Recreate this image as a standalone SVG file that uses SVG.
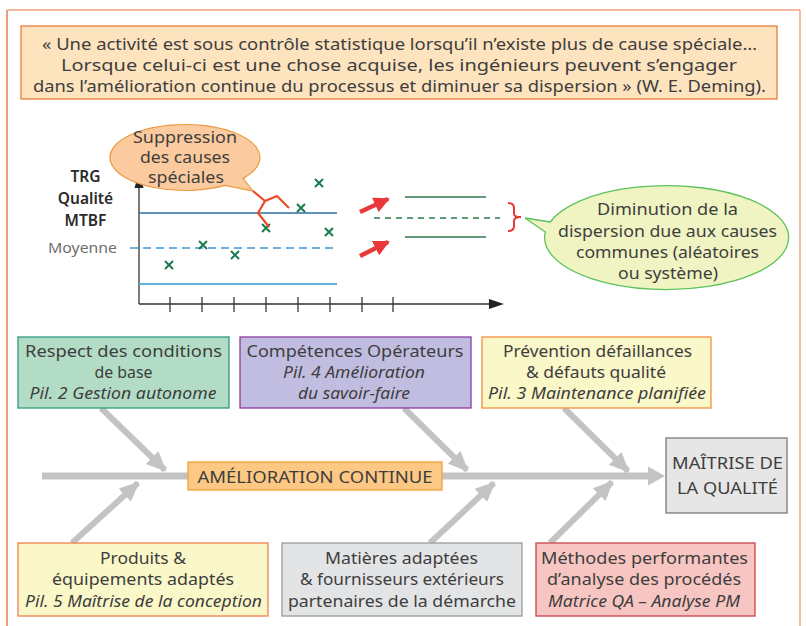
<svg xmlns="http://www.w3.org/2000/svg" width="806" height="626" viewBox="0 0 806 626">
<defs>
<style>
text{font-family:"Noto Sans","Open Sans","Liberation Sans",sans-serif;fill:#3e3e3e;}
.q{font-size:16.5px;text-anchor:middle;}
.b{font-size:16px;text-anchor:middle;}
.i{font-style:italic;}
.lbl{font-size:15.5px;font-weight:600;text-anchor:middle;fill:#2a2a2a;}
.box{stroke-width:1.3;}
.cross{stroke:#1c7a4c;stroke-width:2;fill:none;}
.grayarrow{stroke:#c3c3c3;stroke-width:6;fill:none;}
</style>
<marker id="gh" markerUnits="userSpaceOnUse" markerWidth="20" markerHeight="20" viewBox="0 0 20 20" refX="18" refY="10" orient="auto">
<path d="M0,1 L20,10 L0,19 Z" fill="#c3c3c3"/>
</marker>
<marker id="rh" markerUnits="userSpaceOnUse" markerWidth="16" markerHeight="16" viewBox="0 0 16 16" refX="14" refY="8" orient="auto">
<path d="M0,0 L16,8 L0,16 Z" fill="#e8383a"/>
</marker>
</defs>

<!-- outer frame -->
<g id="frame" fill="none">
<line x1="7" y1="10" x2="7" y2="626" stroke="#e46a30" stroke-width="1.3"/>
<line x1="7" y1="10" x2="800" y2="10" stroke="#f0a080" stroke-width="1.3"/>
<line x1="800" y1="10" x2="800" y2="626" stroke="#ef9a76" stroke-width="1.3"/>
</g>

<!-- quote -->
<g id="quote">
<rect x="21" y="26" width="756" height="73" fill="#fde3be" stroke="#ea7c3c" stroke-width="1.3"/>
<text class="q" x="399.5" y="50" textLength="715" lengthAdjust="spacingAndGlyphs">« Une activité est sous contrôle statistique lorsqu’il n’existe plus de cause spéciale…</text>
<text class="q" x="399" y="71" textLength="676" lengthAdjust="spacingAndGlyphs">Lorsque celui-ci est une chose acquise, les ingénieurs peuvent s’engager</text>
<text class="q" x="399.5" y="92" textLength="733" lengthAdjust="spacingAndGlyphs">dans l’amélioration continue du processus et diminuer sa dispersion » (W. E. Deming).</text>
</g>

<!-- chart -->
<g id="chart">
<text class="lbl" x="85.5" y="182">TRG</text>
<text class="lbl" x="85.5" y="204">Qualité</text>
<text class="lbl" x="85.5" y="226">MTBF</text>
<text x="82.5" y="253" style="font-size:15px;text-anchor:middle;fill:#6e6e6e" textLength="69" lengthAdjust="spacingAndGlyphs">Moyenne</text>
<line x1="139" y1="186" x2="139" y2="304" stroke="#333" stroke-width="1.3"/>
<path d="M139,172 L143.5,188 L134.5,188 Z" fill="#222"/>
<line x1="139" y1="304" x2="492" y2="304" stroke="#333" stroke-width="1.3"/>
<path d="M504,304 L489,299 L489,309 Z" fill="#222"/>
<g stroke="#333" stroke-width="1.3">
<line x1="170" y1="297" x2="170" y2="312"/>
<line x1="202" y1="297" x2="202" y2="312"/>
<line x1="234" y1="297" x2="234" y2="312"/>
<line x1="266" y1="297" x2="266" y2="312"/>
<line x1="298" y1="297" x2="298" y2="312"/>
<line x1="330" y1="297" x2="330" y2="312"/>
<line x1="362" y1="297" x2="362" y2="312"/>
<line x1="393" y1="297" x2="393" y2="312"/>
</g>
<line x1="139" y1="213" x2="337" y2="213" stroke="#2a6ea6" stroke-width="1.4"/>
<line x1="130" y1="248" x2="337" y2="248" stroke="#3d97d6" stroke-width="1.4" stroke-dasharray="8,5"/>
<line x1="139" y1="284" x2="337" y2="284" stroke="#62b0dc" stroke-width="1.8"/>
<g class="cross">
<path d="M165,261 L173,269 M173,261 L165,269"/>
<path d="M199,241 L207,249 M207,241 L199,249"/>
<path d="M231,251 L239,259 M239,251 L231,259"/>
<path d="M262,224 L270,232 M270,224 L262,232"/>
<path d="M297,204 L305,212 M305,204 L297,212"/>
<path d="M315,179 L323,187 M323,179 L315,187"/>
<path d="M325,228 L333,236 M333,228 L325,236"/>
</g>
</g>

<!-- orange bubble -->
<g id="bubble-suppression">
<path d="M243,178.4 L253,191 L225,185.4 A75 33 0 1 1 243,178.4 Z" fill="#fbcb9f" stroke="#eb9a3e" stroke-width="1.2"/>
<text class="b" x="185" y="143" textLength="104" lengthAdjust="spacingAndGlyphs">Suppression</text>
<text class="b" x="185" y="163" textLength="90" lengthAdjust="spacingAndGlyphs">des causes</text>
<text class="b" x="186" y="183" textLength="76" lengthAdjust="spacingAndGlyphs">spéciales</text>
</g>
<g id="lightning" fill="none" stroke="#ec4a26" stroke-width="2.2" stroke-linejoin="round">
<path d="M253,191 L265,201 L277,196 L289,208"/>
<path d="M265,201 L258,213 L269,227"/>
</g>

<!-- reduced dispersion -->
<g id="reduced">
<line x1="360" y1="212" x2="388" y2="199" stroke="#e8383a" stroke-width="4.5" marker-end="url(#rh)"/>
<line x1="360" y1="256" x2="388" y2="242" stroke="#e8383a" stroke-width="4.5" marker-end="url(#rh)"/>
<line x1="405" y1="197" x2="486" y2="197" stroke="#2a7a4c" stroke-width="1.3"/>
<line x1="374" y1="218" x2="500" y2="218" stroke="#2a7a4c" stroke-width="1.3" stroke-dasharray="6,5"/>
<line x1="405" y1="237" x2="486" y2="237" stroke="#2a7a4c" stroke-width="1.3"/>
<path d="M508,203 Q514,203 514,208 L514,214 Q514,217 521,217 Q514,217 514,221 L514,226 Q514,231 508,231" fill="none" stroke="#e8383a" stroke-width="2"/>
</g>

<!-- green bubble -->
<g id="bubble-diminution">
<path d="M550.2,222 L525,218 L545.3,232 A122 52 0 1 0 550.2,222 Z" fill="#eff4c2" stroke="#5cc25c" stroke-width="1.3"/>
<text class="b" x="667.5" y="215" textLength="141" lengthAdjust="spacingAndGlyphs">Diminution de la</text>
<text class="b" x="667.5" y="237" textLength="219" lengthAdjust="spacingAndGlyphs">dispersion due aux causes</text>
<text class="b" x="667.5" y="258" textLength="183" lengthAdjust="spacingAndGlyphs">communes (aléatoires</text>
<text class="b" x="668" y="279" textLength="100" lengthAdjust="spacingAndGlyphs">ou système)</text>
</g>

<!-- connectors (fishbone) -->
<g id="connectors">
<line x1="42" y1="476" x2="650" y2="476" stroke="#c3c3c3" stroke-width="7"/>
<path d="M665,476 L648,466.5 L648,485.5 Z" fill="#c3c3c3"/>
<line class="grayarrow" x1="101" y1="408" x2="165" y2="470" marker-end="url(#gh)"/>
<line class="grayarrow" x1="404" y1="408" x2="467" y2="470" marker-end="url(#gh)"/>
<line class="grayarrow" x1="564" y1="408" x2="628" y2="471" marker-end="url(#gh)"/>
<line class="grayarrow" x1="72" y1="543" x2="138" y2="483" marker-end="url(#gh)"/>
<line class="grayarrow" x1="430" y1="543" x2="494" y2="483" marker-end="url(#gh)"/>
<line class="grayarrow" x1="550" y1="543" x2="612" y2="482" marker-end="url(#gh)"/>
</g>

<!-- nodes -->
<g id="respect">
<rect class="box" x="18" y="337" width="211" height="71" fill="#b3dcc6" stroke="#2e9a80"/>
<text class="b" x="123.5" y="357" textLength="197" lengthAdjust="spacingAndGlyphs">Respect des conditions</text>
<text class="b" x="123.5" y="378" textLength="58" lengthAdjust="spacingAndGlyphs">de base</text>
<text class="b i" x="123" y="399" textLength="187" lengthAdjust="spacingAndGlyphs">Pil. 2 Gestion autonome</text>
</g>
<g id="competences">
<rect class="box" x="240" y="337" width="231" height="71" fill="#c1bde0" stroke="#8e3aa0"/>
<text class="b" x="355" y="357" textLength="217" lengthAdjust="spacingAndGlyphs">Compétences Opérateurs</text>
<text class="b i" x="354" y="378" textLength="142" lengthAdjust="spacingAndGlyphs">Pil. 4 Amélioration</text>
<text class="b i" x="354" y="399" textLength="112" lengthAdjust="spacingAndGlyphs">du savoir-faire</text>
</g>
<g id="prevention">
<rect class="box" x="482" y="337" width="229" height="71" fill="#faf7c9" stroke="#f0923c"/>
<text class="b" x="597.5" y="357" textLength="189" lengthAdjust="spacingAndGlyphs">Prévention défaillances</text>
<text class="b" x="596" y="378" textLength="140" lengthAdjust="spacingAndGlyphs">&amp; défauts qualité</text>
<text class="b i" x="597" y="399" textLength="218" lengthAdjust="spacingAndGlyphs">Pil. 3 Maintenance planifiée</text>
</g>
<g id="amelioration">
<rect class="box" x="188" y="462" width="254" height="28" fill="#fdc883" stroke="#f2a23a"/>
<text class="b" x="315" y="482.5" textLength="235" lengthAdjust="spacingAndGlyphs">AMÉLIORATION CONTINUE</text>
</g>
<g id="maitrise">
<rect class="box" x="666" y="438" width="121" height="75" fill="#e6e6e6" stroke="#7a7a7a"/>
<text class="b" x="727.5" y="469" textLength="111" lengthAdjust="spacingAndGlyphs">MAÎTRISE DE</text>
<text class="b" x="727.5" y="494" textLength="101" lengthAdjust="spacingAndGlyphs">LA QUALITÉ</text>
</g>
<g id="produits">
<rect class="box" x="18" y="543" width="250" height="73" fill="#faf7c9" stroke="#ee8050"/>
<text class="b" x="143" y="564" textLength="86" lengthAdjust="spacingAndGlyphs">Produits &amp;</text>
<text class="b" x="143" y="585" textLength="182" lengthAdjust="spacingAndGlyphs">équipements adaptés</text>
<text class="b i" x="143.5" y="607" textLength="237" lengthAdjust="spacingAndGlyphs">Pil. 5 Maîtrise de la conception</text>
</g>
<g id="matieres">
<rect class="box" x="282" y="543" width="240" height="73" fill="#e3e4e6" stroke="#9a9a9a"/>
<text class="b" x="401.5" y="564" textLength="153" lengthAdjust="spacingAndGlyphs">Matières adaptées</text>
<text class="b" x="402" y="585" textLength="204" lengthAdjust="spacingAndGlyphs">&amp; fournisseurs extérieurs</text>
<text class="b" x="402" y="607" textLength="228" lengthAdjust="spacingAndGlyphs">partenaires de la démarche</text>
</g>
<g id="methodes">
<rect class="box" x="536" y="543" width="219" height="73" fill="#f8c6c2" stroke="#c8424a"/>
<text class="b" x="644.5" y="564" textLength="207" lengthAdjust="spacingAndGlyphs">Méthodes performantes</text>
<text class="b" x="644" y="585" textLength="194" lengthAdjust="spacingAndGlyphs">d’analyse des procédés</text>
<text class="b i" x="644" y="607" textLength="192" lengthAdjust="spacingAndGlyphs">Matrice QA – Analyse PM</text>
</g>
</svg>
